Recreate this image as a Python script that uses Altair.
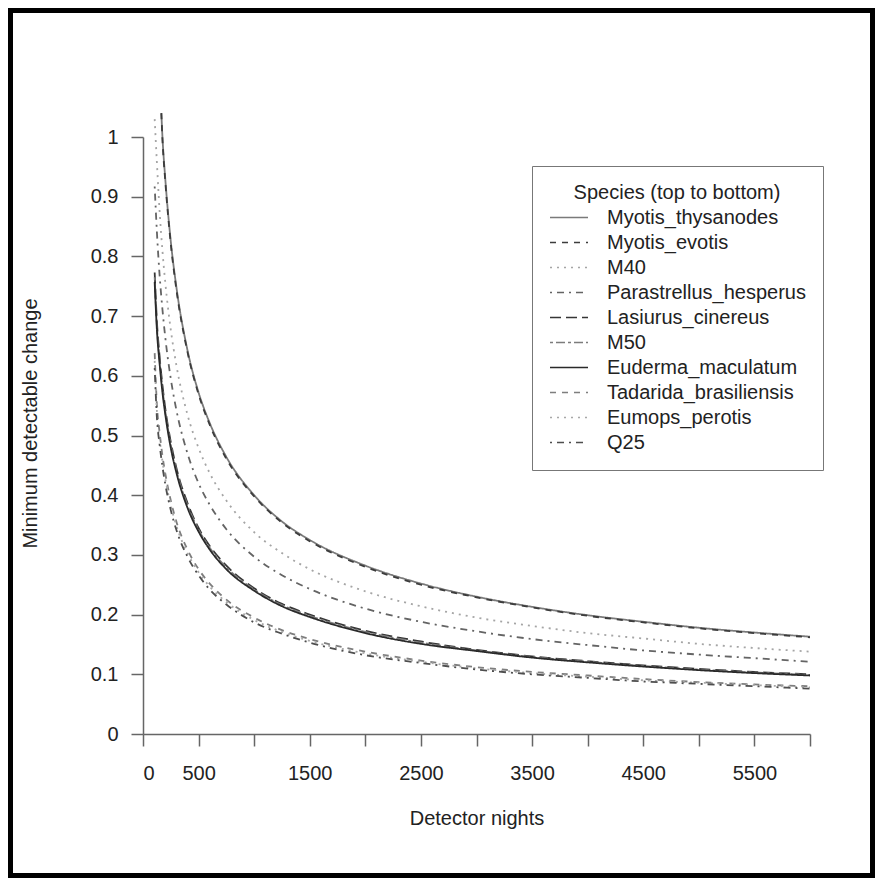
import altair as alt
import pandas as pd

SPECIES = ["Myotis_thysanodes", "Myotis_evotis", "M40", "Parastrellus_hesperus",
           "Lasiurus_cinereus", "M50", "Euderma_maculatum", "Tadarida_brasiliensis",
           "Eumops_perotis", "Q25"]

N_MYOTIS = [165, 175, 200, 250, 300, 400, 500, 600, 750, 1000, 1250, 1500, 2000,
            2500, 3000, 3500, 4000, 4500, 5000, 5500, 6000]
N_OTHER = [105, 125, 150, 175, 200, 250, 300, 400, 500, 600, 750, 1000, 1250, 1500,
           2000, 2500, 3000, 3500, 4000, 4500, 5000, 5500, 6000]

myotis_thysanodes = [1.04, 1.000, 0.931, 0.825, 0.749, 0.643, 0.572, 0.521, 0.464, 0.400, 0.356,
                     0.325, 0.282, 0.252, 0.230, 0.213, 0.199, 0.188, 0.178, 0.170, 0.163]
myotis_evotis = [1.04, 0.996, 0.927, 0.821, 0.745, 0.640, 0.569, 0.518, 0.461, 0.398, 0.354,
                 0.323, 0.280, 0.250, 0.229, 0.212, 0.198, 0.187, 0.177, 0.169, 0.162]
m40 = [1.03, 0.957, 0.874, 0.809, 0.757, 0.677, 0.618, 0.535, 0.479, 0.437, 0.391, 0.338,
       0.303, 0.276, 0.239, 0.214, 0.195, 0.181, 0.169, 0.160, 0.151, 0.144, 0.138]
parastrellus_hesperus = [0.917, 0.841, 0.767, 0.711, 0.665, 0.595, 0.543, 0.470, 0.420, 0.384,
                         0.343, 0.297, 0.266, 0.243, 0.210, 0.188, 0.172, 0.159, 0.149, 0.140,
                         0.133, 0.127, 0.121]
lasiurus_cinereus = [0.773, 0.691, 0.631, 0.584, 0.546, 0.489, 0.446, 0.387, 0.345, 0.315, 0.282,
                     0.244, 0.218, 0.200, 0.173, 0.155, 0.141, 0.130, 0.122, 0.115, 0.109, 0.104,
                     0.100]
m50 = [0.765, 0.684, 0.625, 0.578, 0.541, 0.484, 0.442, 0.383, 0.342, 0.312, 0.279, 0.242,
       0.216, 0.198, 0.171, 0.153, 0.140, 0.129, 0.121, 0.114, 0.108, 0.103, 0.099]
euderma_maculatum = [0.757, 0.677, 0.619, 0.572, 0.536, 0.479, 0.438, 0.379, 0.339, 0.309, 0.276,
                     0.240, 0.214, 0.196, 0.169, 0.151, 0.139, 0.128, 0.120, 0.113, 0.107, 0.102,
                     0.098]
tadarida_brasiliensis = [0.638, 0.552, 0.504, 0.466, 0.437, 0.391, 0.356, 0.309, 0.276, 0.252,
                         0.225, 0.195, 0.174, 0.159, 0.138, 0.123, 0.112, 0.104, 0.098, 0.092,
                         0.087, 0.083, 0.080]
eumops_perotis = [0.625, 0.541, 0.494, 0.457, 0.428, 0.383, 0.349, 0.303, 0.271, 0.247, 0.221,
                  0.191, 0.171, 0.156, 0.135, 0.121, 0.110, 0.102, 0.096, 0.090, 0.086, 0.082,
                  0.078]
q25 = [0.613, 0.530, 0.484, 0.448, 0.419, 0.375, 0.342, 0.297, 0.266, 0.242, 0.217, 0.187,
       0.168, 0.153, 0.132, 0.119, 0.108, 0.100, 0.094, 0.088, 0.084, 0.080, 0.076]

SERIES = [
    (SPECIES[0], N_MYOTIS, myotis_thysanodes),
    (SPECIES[1], N_MYOTIS, myotis_evotis),
    (SPECIES[2], N_OTHER, m40),
    (SPECIES[3], N_OTHER, parastrellus_hesperus),
    (SPECIES[4], N_OTHER, lasiurus_cinereus),
    (SPECIES[5], N_OTHER, m50),
    (SPECIES[6], N_OTHER, euderma_maculatum),
    (SPECIES[7], N_OTHER, tadarida_brasiliensis),
    (SPECIES[8], N_OTHER, eumops_perotis),
    (SPECIES[9], N_OTHER, q25),
]

GRAYS = ["#7a7a7a", "#3c3c3c", "#a5a5a5", "#646464", "#363636",
         "#7c7c7c", "#2a2a2a", "#7e7e7e", "#a8a8a8", "#4e4e4e"]
DASHES = [[1, 0], [6, 6], [2, 5], [2, 5, 7, 5], [11, 5],
          [3, 3, 9, 3], [1, 0], [6, 6], [2, 5], [2, 5, 7, 5]]

X_TICKS = list(range(0, 6001, 500))
X_LABELED = [0, 500, 1500, 2500, 3500, 4500, 5500]
Y_TICKS = [0, 0.1, 0.2, 0.3, 0.4, 0.5, 0.6, 0.7, 0.8, 0.9, 1]

rows = []
for name, ns, vals in SERIES:
    for order, (n, v) in enumerate(zip(ns, vals)):
        rows.append({"species": name, "nights": n, "mdc": v, "order": order})
df = pd.DataFrame(rows)

FONT = "Liberation Sans"
W, H = 667, 597
PAD = {"left": 135, "top": 129, "right": 65, "bottom": 144}

label_expr = "indexof([" + ",".join(str(v) for v in X_LABELED) + "], datum.value) >= 0 ? datum.label : ''"

lines = alt.Chart(df).mark_line(strokeWidth=1.8, interpolate="monotone").encode(
    x=alt.X("nights:Q",
            scale=alt.Scale(domain=[0, 6000], nice=False, zero=False),
            axis=alt.Axis(values=X_TICKS, format="d", labelExpr=label_expr,
                          title="Detector nights", titleY=84, titleBaseline="middle",
                          labelPadding=17)),
    y=alt.Y("mdc:Q",
            scale=alt.Scale(domain=[0, 1], nice=False, zero=False),
            axis=alt.Axis(values=Y_TICKS, format="~g", title="Minimum detectable change",
                          titleX=-113, titleY=286, titleBaseline="middle", titleAlign="center",
                          labelPadding=13)),
    color=alt.Color("species:N", scale=alt.Scale(domain=SPECIES, range=GRAYS),
                    title="Species (top to bottom)"),
    strokeDash=alt.StrokeDash("species:N", scale=alt.Scale(domain=SPECIES, range=DASHES),
                              title="Species (top to bottom)"),
    order="order:Q",
    detail="species:N",
)

frame_df = pd.DataFrame({"k": [0]})
frame = alt.Chart(frame_df).mark_rect(fill=None, stroke="black", strokeWidth=10).encode(
    x=alt.value(-PAD["left"]), x2=alt.value(W + PAD["right"]),
    y=alt.value(-PAD["top"]), y2=alt.value(H + PAD["bottom"]),
)

chart = alt.layer(lines, frame).properties(
    width=W, height=H, padding=PAD, autosize="none", background="white"
).configure_view(stroke=None).configure_axis(
    grid=False,
    domainColor="#666666", domainWidth=1.5,
    tickColor="#666666", tickWidth=1.5, tickSize=12,
    labelFont=FONT, labelFontSize=20, labelColor="#222222",
    titleFont=FONT, titleFontSize=20, titleColor="#222222", titleFontWeight="normal",
).configure_legend(
    orient="none", legendX=389, legendY=29,
    symbolType="M-1,0H3", symbolSize=361, symbolStrokeWidth=1.6,
    labelFont=FONT, labelFontSize=20, labelColor="#222222", labelOffset=37,
    titleFont=FONT, titleFontSize=20, titleColor="#222222", titleFontWeight="normal",
    titleAnchor="middle", titleAlign="center", titlePadding=4, titleLimit=400,
    rowPadding=4, padding=17, strokeColor="#777777", fillColor="white",
    labelLimit=400,
)

chart.save("out.html", embed_options={"renderer": "svg", "actions": False})
